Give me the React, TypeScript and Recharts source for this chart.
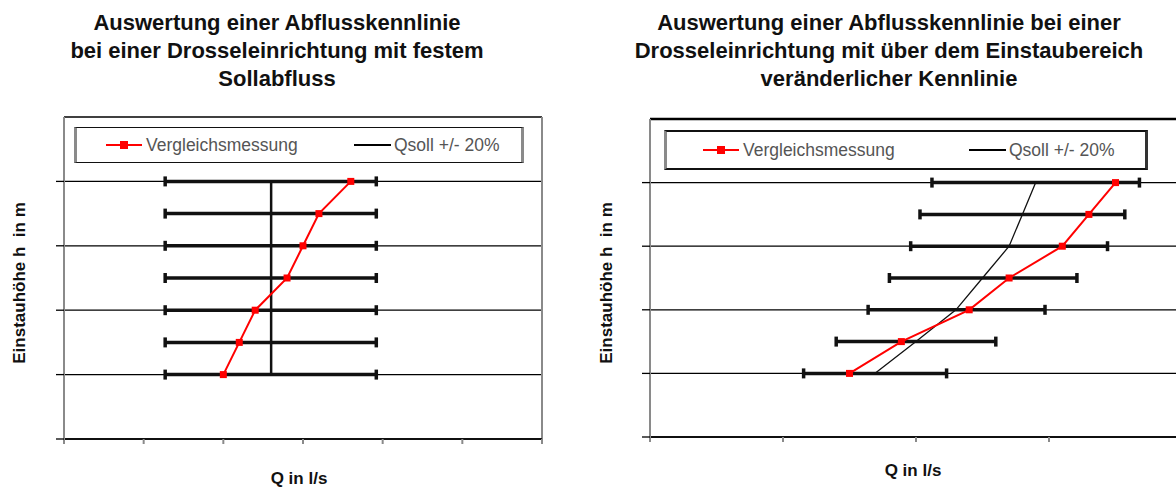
import React from "react";
import {
  CartesianGrid,
  ErrorBar,
  Legend,
  ReferenceLine,
  Scatter,
  ScatterChart,
  XAxis,
  YAxis,
} from "recharts";

// Einstauhöhe h (m) of each measurement row
const levels = [1, 1.5, 2, 2.5, 3, 3.5, 4];

// chart 1: fixed Sollabfluss
const measuredFixed = [2.0, 2.2, 2.4, 2.8, 3.0, 3.2, 3.6];
const qsollFixed = [2.6, 2.6, 2.6, 2.6, 2.6, 2.6, 2.6];
const lowerFixed = [1.27, 1.27, 1.27, 1.27, 1.27, 1.27, 1.27];
const upperFixed = [3.92, 3.92, 3.92, 3.92, 3.92, 3.92, 3.92];

// chart 2: variable Kennlinie
const measuredVar = [1.5, 1.89, 2.4, 2.7, 3.1, 3.3, 3.5];
const qsollVar = [1.69, 2.0, 2.3, 2.5, 2.7, 2.8, 2.9];
const lowerVar = [1.155, 1.4, 1.64, 1.8, 1.96, 2.03, 2.12];
const upperVar = [2.23, 2.6, 2.97, 3.21, 3.44, 3.57, 3.68];

const yTicks = [0, 1, 2, 3, 4];
const xTicksFixed = [0, 1, 2, 3, 4, 5, 6];
const xTicksVar = [0, 1, 2, 3, 4];

const FONT = '"Liberation Sans", Arial, sans-serif';
const GREY = "#8a8a8a";
const blank = () => "";

function sollRows(q: number[], lo: number[], hi: number[]) {
  return levels.map((h, i) => ({ h, q: q[i], err: [q[i] - lo[i], hi[i] - q[i]] }));
}

function measuredRows(m: number[]) {
  return levels.map((h, i) => ({ h, q: m[i] }));
}

function RedSquare(props: any) {
  const { cx, cy } = props;
  if (cx == null || cy == null) return <g />;
  return <rect x={cx - 3.5} y={cy - 3.5} width={7} height={7} fill="#ff0000" />;
}

const NoDot = () => <g />;

function LegendBox({
  width,
  height,
  redAt,
  blackAt,
  thick,
}: {
  width: number;
  height: number;
  redAt: number;
  blackAt: number;
  thick: number;
}) {
  const text: React.CSSProperties = {
    position: "absolute",
    top: 0,
    lineHeight: `${height - 2 * thick}px`,
    fontSize: 17.5,
    color: "#555",
    fontFamily: FONT,
    whiteSpace: "pre",
  };
  const mid = (height - 2 * thick) / 2;
  return (
    <div
      style={{
        position: "relative",
        boxSizing: "border-box",
        width,
        height,
        background: "#fff",
        borderTop: `${thick}px solid #111`,
        borderBottom: `${thick}px solid #111`,
        borderLeft: `3px solid ${GREY}`,
        borderRight: `3px solid ${thick > 1 ? "#333" : GREY}`,
      }}
    >
      <div style={{ position: "absolute", left: redAt, top: mid - 1, width: 36, height: 2, background: "#ff0000" }} />
      <div style={{ position: "absolute", left: redAt + 14, top: mid - 4, width: 8, height: 8, background: "#ff0000" }} />
      <span style={{ ...text, left: redAt + 40 }}>Vergleichsmessung</span>
      <div style={{ position: "absolute", left: blackAt, top: mid - 1, width: 37, height: 2, background: "#000" }} />
      <span style={{ ...text, left: blackAt + 40 }}>Qsoll +/- 20%</span>
    </div>
  );
}

function Title({ center, lines }: { center: number; lines: string[] }) {
  return (
    <div
      style={{
        position: "absolute",
        left: center - 300,
        top: 9,
        width: 600,
        textAlign: "center",
        fontWeight: "bold",
        fontSize: 22,
        lineHeight: "28px",
        color: "#111",
      }}
    >
      {lines.map((l) => (
        <div key={l}>{l}</div>
      ))}
    </div>
  );
}

function XLabel({ cx, cy }: { cx: number; cy: number }) {
  return (
    <div
      style={{
        position: "absolute",
        left: cx - 100,
        top: cy - 8,
        width: 200,
        lineHeight: "16px",
        textAlign: "center",
        fontWeight: "bold",
        fontSize: 17,
        color: "#111",
      }}
    >
      Q in l/s
    </div>
  );
}

function YLabel({ cx, cy }: { cx: number; cy: number }) {
  return (
    <div
      style={{
        position: "absolute",
        left: cx,
        top: cy,
        transform: "translate(-50%, -50%) rotate(-90deg)",
        whiteSpace: "pre",
        fontWeight: "bold",
        fontSize: 17,
        lineHeight: "20px",
        color: "#111",
      }}
    >
      {"Einstauhöhe h  in m"}
    </div>
  );
}

export default function App() {
  return (
    <div
      style={{
        position: "absolute",
        left: 0,
        top: 0,
        width: 1176,
        height: 487,
        overflow: "hidden",
        background: "#fff",
        fontFamily: FONT,
      }}
    >
      <Title
        center={277}
        lines={["Auswertung einer Abflusskennlinie", "bei einer Drosseleinrichtung mit festem", "Sollabfluss"]}
      />
      <Title
        center={889}
        lines={[
          "Auswertung einer Abflusskennlinie bei einer",
          "Drosseleinrichtung mit über dem Einstaubereich",
          "veränderlicher Kennlinie",
        ]}
      />

      <div style={{ position: "absolute", left: 0, top: 0 }}>
        <ScatterChart width={560} height={487} margin={{ top: 117, right: 18, bottom: 38, left: 56 }}>
          <CartesianGrid vertical={false} stroke="#000" strokeWidth={1.3} />
          <XAxis
            type="number"
            dataKey="q"
            domain={[0, 6]}
            ticks={xTicksFixed}
            height={10}
            tickFormatter={blank}
            tickSize={5}
            axisLine={{ stroke: "#000", strokeWidth: 1.3 }}
            tickLine={{ stroke: GREY, strokeWidth: 2 }}
          />
          <YAxis
            type="number"
            dataKey="h"
            domain={[0, 5]}
            ticks={yTicks}
            width={8}
            tickFormatter={blank}
            tickSize={8}
            axisLine={{ stroke: GREY, strokeWidth: 2 }}
            tickLine={{ stroke: "#000", strokeWidth: 1.3 }}
          />
          <ReferenceLine x={6} stroke={GREY} strokeWidth={2} />
          <Legend
            layout="horizontal"
            verticalAlign="middle"
            align="center"
            wrapperStyle={{ left: 74, top: 127, width: 450, height: 36 }}
            content={() => <LegendBox width={450} height={36} redAt={29} blackAt={277} thick={1} />}
          />
          <Scatter
            name="Qsoll +/- 20%"
            data={sollRows(qsollFixed, lowerFixed, upperFixed)}
            line={{ stroke: "#111", strokeWidth: 2.5 }}
            shape={NoDot}
            isAnimationActive={false}
          >
            <ErrorBar dataKey="err" direction="x" width={5} strokeWidth={3.5} stroke="#111" isAnimationActive={false} />
          </Scatter>
          <Scatter
            name="Vergleichsmessung"
            data={measuredRows(measuredFixed)}
            line={{ stroke: "#ff0000", strokeWidth: 2 }}
            shape={RedSquare}
            isAnimationActive={false}
          />
        </ScatterChart>
      </div>

      <div style={{ position: "absolute", left: 590, top: 0 }}>
        <ScatterChart width={600} height={487} margin={{ top: 119, right: 8, bottom: 40, left: 52 }}>
          <CartesianGrid vertical={false} stroke="#000" strokeWidth={1.3} />
          <XAxis
            type="number"
            dataKey="q"
            domain={[0, 4]}
            ticks={xTicksVar}
            height={10}
            tickFormatter={blank}
            tickSize={5}
            axisLine={{ stroke: "#000", strokeWidth: 1.3 }}
            tickLine={{ stroke: GREY, strokeWidth: 2 }}
          />
          <YAxis
            type="number"
            dataKey="h"
            domain={[0, 5]}
            ticks={yTicks}
            width={8}
            tickFormatter={blank}
            tickSize={8}
            axisLine={{ stroke: GREY, strokeWidth: 2 }}
            tickLine={{ stroke: "#000", strokeWidth: 1.3 }}
          />
          <ReferenceLine y={5} stroke="#000" strokeWidth={2.5} />
          <Legend
            layout="horizontal"
            verticalAlign="middle"
            align="center"
            wrapperStyle={{ left: 74, top: 130, width: 484, height: 40 }}
            content={() => <LegendBox width={484} height={40} redAt={36} blackAt={302} thick={2} />}
          />
          <Scatter
            name="Qsoll +/- 20%"
            data={sollRows(qsollVar, lowerVar, upperVar)}
            line={{ stroke: "#111", strokeWidth: 1.3 }}
            shape={NoDot}
            isAnimationActive={false}
          >
            <ErrorBar dataKey="err" direction="x" width={5} strokeWidth={3.5} stroke="#111" isAnimationActive={false} />
          </Scatter>
          <Scatter
            name="Vergleichsmessung"
            data={measuredRows(measuredVar)}
            line={{ stroke: "#ff0000", strokeWidth: 2 }}
            shape={RedSquare}
            isAnimationActive={false}
          />
        </ScatterChart>
      </div>

      <XLabel cx={299} cy={479} />
      <XLabel cx={913} cy={471} />
      <YLabel cx={20} cy={283} />
      <YLabel cx={607} cy={283} />
    </div>
  );
}
